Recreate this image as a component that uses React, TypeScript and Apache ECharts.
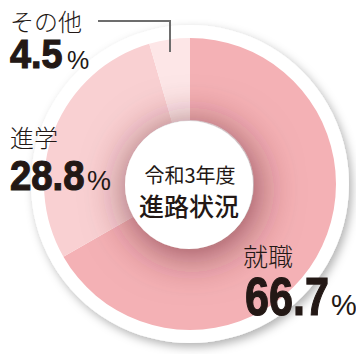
import React, { useEffect, useRef } from "react";
import * as echarts from "echarts";

const categories = ["就職", "進学", "その他"];
const values = [66.7, 28.8, 4.5];
const colors = ["#f4b1b5", "#f9d0d2", "#fde6e7"];
const titleLines = ["令和3年度", "進路状況"];

const JP = "'Noto Sans CJK JP', sans-serif";
const NUM = "'Liberation Sans', Arial, sans-serif";
const INK = "#231815";

export default function App() {
  const ref = useRef<HTMLDivElement>(null);
  useEffect(() => {
    if (!ref.current) return;
    const chart = echarts.init(ref.current, undefined, { renderer: "svg" });
    const cx = 190, cy = 184;
    const labelPos = [
      { nameX: 243, nameY: 255, nameSize: 25, numX: 245, numY: 296, numSize: 54, sx: 0.8, pctX: 331, pctY: 305, pctSize: 29 },
      { nameX: 10, nameY: 136, nameSize: 24, numX: 10, numY: 175, numSize: 43, sx: 0.89, pctX: 87, pctY: 181, pctSize: 27 },
      { nameX: 10, nameY: 20, nameSize: 24, numX: 10, numY: 53, numSize: 41, sx: 0.92, pctX: 67, pctY: 60, pctSize: 25 },
    ];
    const graphics: any[] = [];
    categories.forEach((c, i) => {
      const p = labelPos[i];
      graphics.push({
        type: "text", x: p.nameX, y: p.nameY, z: 100,
        style: { text: c, font: `300 ${p.nameSize}px ${JP}`, fill: INK, align: "left", verticalAlign: "middle" },
      });
      graphics.push({
        type: "text", x: p.numX, y: p.numY, z: 100, scaleX: p.sx, scaleY: 1,
        style: { text: values[i].toFixed(1), font: `bold ${p.numSize}px ${NUM}`, fill: INK, stroke: INK, lineWidth: 1.2, align: "left", verticalAlign: "middle" },
      });
      graphics.push({
        type: "text", x: p.pctX, y: p.pctY, z: 100,
        style: { text: "%", font: `normal ${p.pctSize}px ${NUM}`, fill: INK, align: "left", verticalAlign: "middle" },
      });
    });
    graphics.push({
      type: "polyline", z: 100,
      shape: { points: [[98, 21], [170, 21], [170, 52]] },
      style: { stroke: "#6d6d6d", lineWidth: 2, fill: null },
    });
    graphics.push({
      type: "text", x: 190, y: 174, z: 100,
      style: { text: titleLines[0], font: `normal 20px ${JP}`, fill: INK, align: "center", verticalAlign: "middle" },
    });
    graphics.push({
      type: "text", x: 189, y: 205, z: 100,
      style: { text: titleLines[1], font: `500 25px ${JP}`, fill: INK, align: "center", verticalAlign: "middle" },
    });

    chart.setOption({
      animation: false,
      series: [
        {
          type: "pie", silent: true, center: [cx, cy], radius: [0, 159],
          label: { show: false }, labelLine: { show: false },
          itemStyle: { color: "#ffffff", shadowBlur: 10, shadowOffsetX: 3, shadowOffsetY: 4, shadowColor: "rgba(0,0,0,0.3)" },
          data: [{ value: 1, name: "bg" }],
        },
        {
          type: "pie", silent: true, center: [cx, cy], radius: [64, 146],
          startAngle: 90, clockwise: true,
          label: { show: false }, labelLine: { show: false },
          data: categories.map((c, i) => ({ name: c, value: values[i], itemStyle: { color: colors[i] } })),
        },
        {
          type: "pie", silent: true, center: [cx - 1, cy + 1], radius: [0, 64],
          label: { show: false }, labelLine: { show: false },
          itemStyle: { color: "#ffffff", shadowBlur: 45, shadowOffsetX: 3, shadowOffsetY: 5, shadowColor: "rgba(100,35,45,0.75)" },
          data: [{ value: 1, name: "hole" }],
        },
      ],
      graphic: graphics,
    });
    return () => chart.dispose();
  }, []);
  return <div ref={ref} style={{ position: "fixed", left: 0, top: 0, width: 356, height: 354, background: "#ffffff" }} />;
}
